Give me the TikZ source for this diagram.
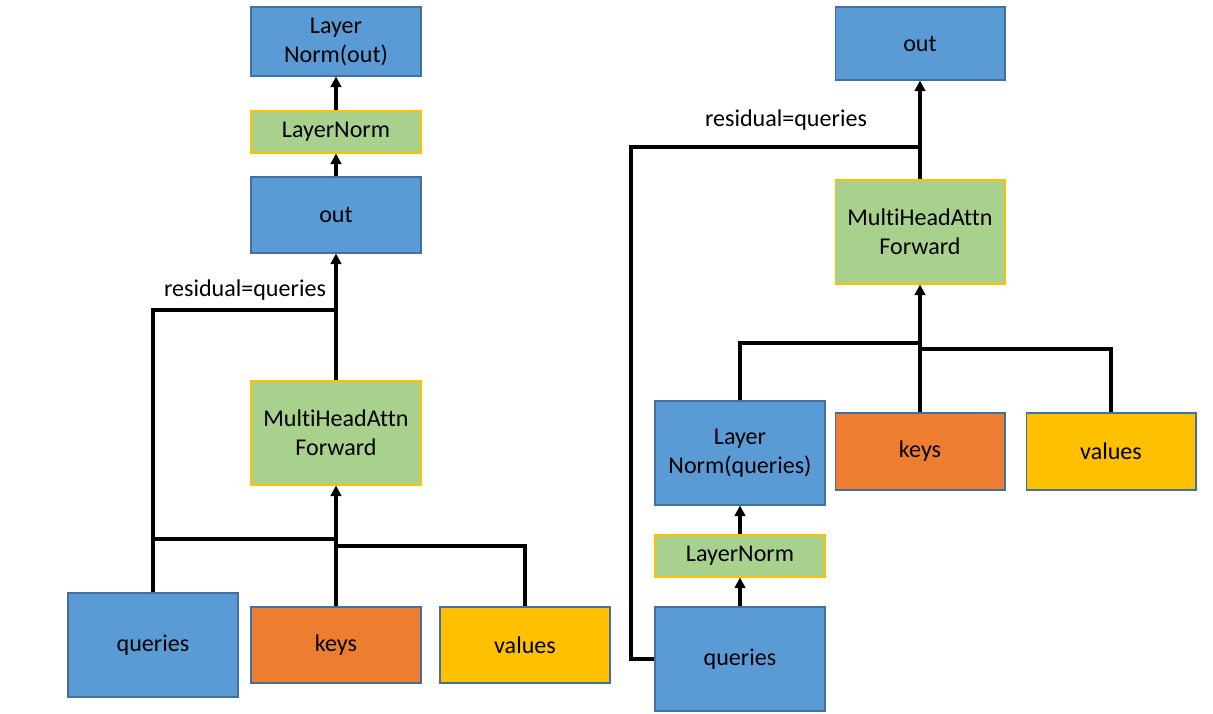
\documentclass[tikz,border=0pt]{standalone}
\usepackage{fontspec}
\setmainfont{Carlito}[Ligatures=NoCommon]
\usetikzlibrary{arrows.meta}

\definecolor{boxblue}{HTML}{5B9BD5}
\definecolor{edgeblue}{HTML}{41719C}
\definecolor{boxgreen}{HTML}{A9D18E}
\definecolor{boxgold}{HTML}{FFC000}
\definecolor{boxorange}{HTML}{ED7D31}

\begin{document}
\begin{tikzpicture}
  [x=0.02cm,y=-0.02cm,
   every node/.style={font=\fontsize{13.7}{16.5}\selectfont,align=center,inner sep=0pt},
   blk/.style={rectangle,minimum width=3.4cm,line width=0.6pt},
   bluebox/.style={blk,fill=boxblue,draw=edgeblue},
   greenbox/.style={blk,fill=boxgreen,draw=boxgold},
   orangebox/.style={blk,fill=boxorange,draw=edgeblue},
   goldbox/.style={blk,fill=boxgold,draw=edgeblue},
   wire/.style={line width=1.8pt},
   arr/.style={wire,-{Triangle[length=6pt,width=6pt]}}]
  \useasboundingbox (0,0) rectangle (1213,713);

  % left: post norm
  \node[bluebox,minimum height=1.38cm] (lnoutL) at (336,41.5) {Layer\\Norm(out)};
  \node[greenbox,minimum height=0.84cm] (lnL) at (336,132) {LayerNorm};
  \node[bluebox,minimum height=1.52cm] (outL) at (336,215) {out};
  \node[greenbox,minimum height=2.08cm] (mhaL) at (336,433) {MultiHeadAttn\\Forward};
  \node[bluebox,minimum height=2.08cm] (qL) at (153,645) {queries};
  \node[orangebox,minimum height=1.52cm] (kL) at (336,645) {keys};
  \node[goldbox,minimum height=1.52cm] (vL) at (525,645) {values};
  \node (resLabL) at (245,290) {residual=queries};

  \coordinate (resL) at (336,310);
  \coordinate (jqL) at (336,539);
  \coordinate (jvL) at (336,546);

  \foreach \from/\to in {lnL/lnoutL,outL/lnL,mhaL/outL,kL/mhaL}
    \draw[arr] (\from) -- (\to);
  \draw[wire] (qL.north) |- (resL);
  \draw[wire] (qL.north |- jqL) -- (jqL);
  \draw[wire] (vL.north) |- (jvL);

  % right: pre norm
  \node[bluebox,minimum height=1.46cm] (outR) at (920,43.5) {out};
  \node[greenbox,minimum height=2.08cm] (mhaR) at (920,232) {MultiHeadAttn\\Forward};
  \node[bluebox,minimum height=2.08cm] (lnqR) at (740,453) {Layer\\Norm(queries)};
  \node[orangebox,minimum height=1.54cm] (kR) at (920,451.5) {keys};
  \node[goldbox,minimum height=1.54cm] (vR) at (1111,451.5) {values};
  \node[greenbox,minimum height=0.84cm] (lnR) at (740,556) {LayerNorm};
  \node[bluebox,minimum height=2.08cm] (qR) at (740,659) {queries};
  \node (resLabR) at (786,120) {residual=queries};

  \coordinate (resR) at (920,147);
  \coordinate (backR) at (631,147);
  \coordinate (jqR) at (920,343);
  \coordinate (jvR) at (920,349);

  \foreach \from/\to in {mhaR/outR,kR/mhaR,qR/lnR,lnR/lnqR}
    \draw[arr] (\from) -- (\to);
  \draw[wire] (qR.west) -| (backR) -- (resR);
  \draw[wire] (lnqR.north) |- (jqR);
  \draw[wire] (vR.north) |- (jvR);

\end{tikzpicture}
\end{document}
